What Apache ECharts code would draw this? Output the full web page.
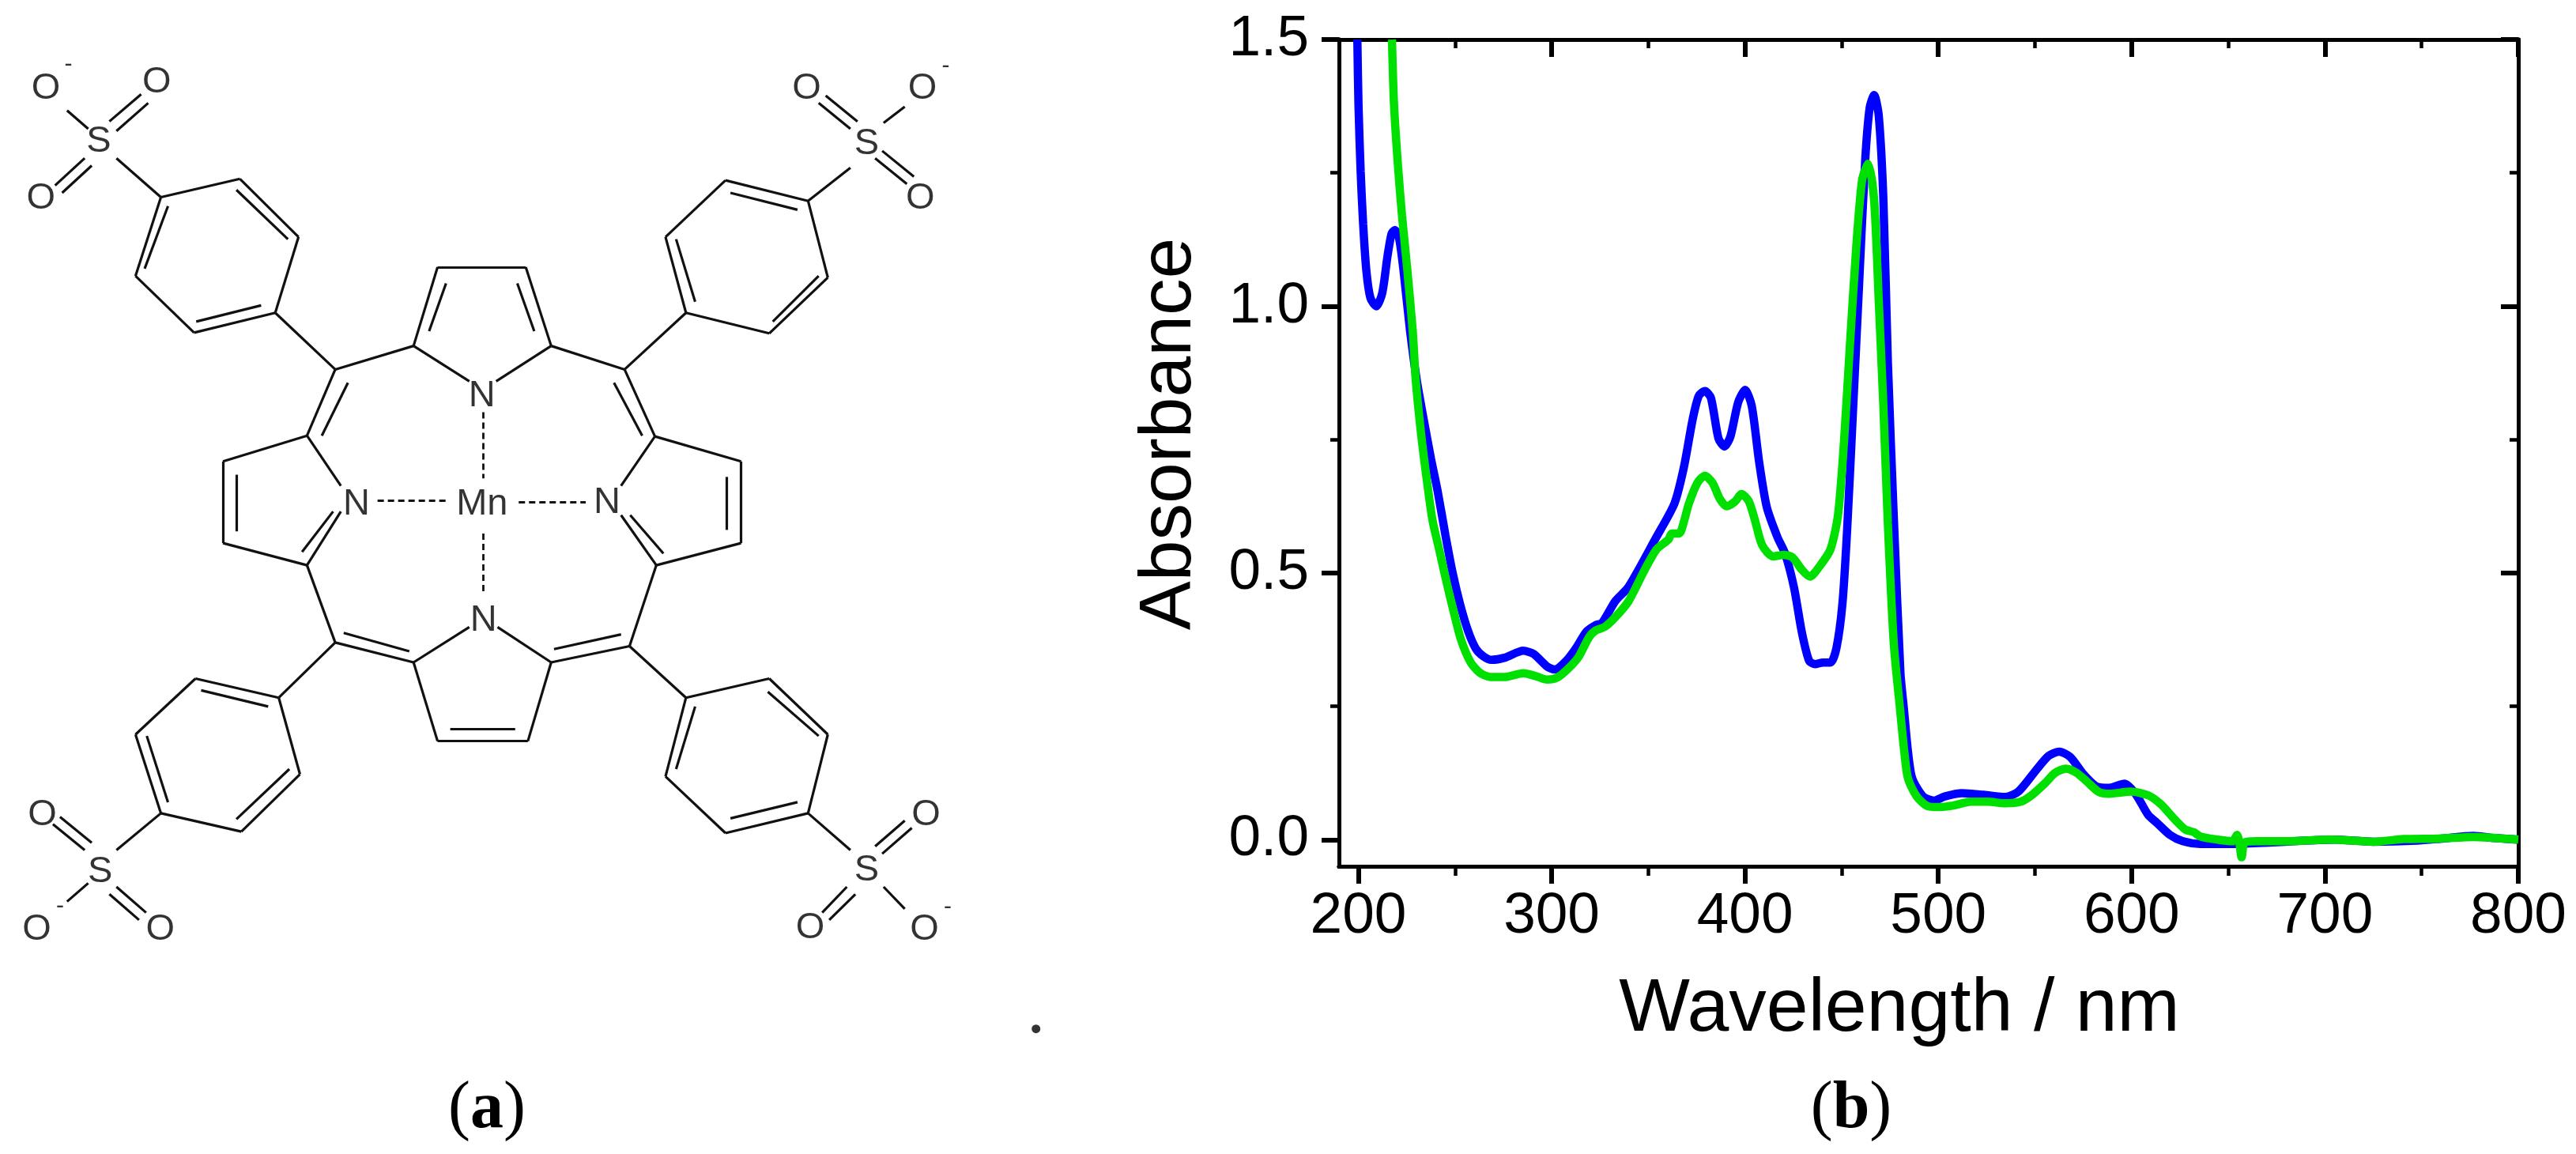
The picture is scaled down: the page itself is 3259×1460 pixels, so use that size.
<!DOCTYPE html>
<html>
<head>
<meta charset="utf-8">
<title>Mn porphyrin</title>
<script src="https://cdn.jsdelivr.net/npm/echarts@6/dist/echarts.min.js"></script>
<style>
html, body { margin: 0; padding: 0; background: #fff; }
#main { width: 3259px; height: 1460px; }
</style>
</head>
<body>
<div id="main"></div>
<script>
// (b) absorbance spectra, [wavelength nm, absorbance]
var blueSpectrum = [
    [199.5,1.5],[200.1,1.376],[201.2,1.253],[202.5,1.154],[204.2,1.065],[206.3,1.015],[209.3,1.0],[212.4,1.025],
    [215.1,1.094],[217.2,1.136],[218.9,1.143],[221,1.129],[223.3,1.07],[226.7,.956],[230.2,.862],[233.8,.788],
    [237.6,.714],[241,.654],[245.1,.57],[248.8,.5],[252.6,.442],[256.7,.392],[260.8,.358],[264.9,.343],[268.9,.337],
    [275.7,.341],[285.3,.354],[290.7,.348],[297.5,.325],[301.6,.319],[307,.333],[312.4,.358],[318,.39],[322.7,.402],
    [326,.406],[332.9,.447],[339.8,.474],[354,.566],[363.5,.63],[368.4,.698],[373,.789],[376.1,.832],[379.3,.841],
    [382.4,.828],[386.3,.752],[389.4,.737],[392.5,.756],[396.5,.82],[400.1,.843],[403.5,.813],[407.4,.706],
    [411.3,.623],[416.8,.567],[420.8,.536],[425.4,.472],[429.4,.389],[433.2,.335],[436.3,.329],[440.3,.332],
    [444.2,.332],[447.3,.359],[450.4,.442],[452.8,.578],[455.9,.806],[459.1,1.047],[462.2,1.274],[464.5,1.372],
    [466.8,1.396],[469.2,1.357],[471.6,1.199],[473.9,.896],[477.1,.593],[480.4,.313],[482.2,.245],[484.3,.165],
    [486.5,.115],[492.1,.081],[497.8,.073],[503.3,.081],[512.3,.087],[523.5,.084],[534.7,.08],[541.4,.09],
    [550.5,.13],[557,.157],[562.6,.165],[568.2,.155],[575,.123],[581.7,.1],[588.4,.097],[596.3,.105],[602,.086],
    [608.6,.046],[613.2,.031],[619.8,.009],[626.5,-.003],[635.5,-.008],[653.3,-.008],[669,-.006],[689.2,-.002],
    [704.7,0],[725,-.004],[747.4,-.002],[760.8,.002],[776.6,.007],[787.7,.003],[800,0]
];
var greenSpectrum = [
    [217.4,1.5],[218.5,1.376],[220.6,1.259],[222.6,1.17],[225.3,1.07],[228.1,.956],[229.7,.862],[232.4,.763],[234.9,.689],
    [238.3,.6],[241.7,.546],[245.1,.491],[249,.432],[253.1,.375],[258,.333],[262.8,.313],[268.2,.305],[275.7,.305],
    [285.3,.312],[291.4,.307],[297.7,.3],[303,.304],[308.4,.32],[314,.343],[319.4,.38],[322.7,.392],[327.5,.399],
    [332.9,.417],[339.8,.447],[348,.505],[354.2,.544],
    [360.5,.563],[362.1,.574],[366,.574],[368.4,.596],[371,.63],[375.4,.669],[379.3,.682],[383.2,.669],[387,.639],
    [390.5,.625],[394.9,.634],[398.2,.648],[401.9,.635],[405,.601],[408.9,.552],[414.5,.531],[420,.534],[424.6,.529],
    [429.4,.506],[433.6,.493],[438.7,.513],[444.2,.544],[448.1,.608],[451.2,.745],[454.4,.934],[457.5,1.108],
    [460.6,1.237],[463.7,1.267],[466.8,1.199],[469.2,1.01],[471.5,.82],[473.9,.593],[477,.366],[480.2,.245],[482.4,.165],
    [484.3,.115],[488.8,.081],[494.3,.063],[500,.061],[507.8,.064],[516.8,.071],[525.7,.071],[534.7,.068],[542.6,.071],
    [548.2,.083],[555,.105],[560.4,.125],[566,.133],[571.6,.125],[577.1,.108],[582.8,.09],[588.4,.086],[599.6,.09],
    [608.6,.083],[615.2,.066],[622,.039],[627.7,.019],[632.1,.014],[635.5,.006],[644.4,0],[652.3,-.003],[654.5,.009],
    [655.6,-.003],[656.9,-.033],[658.5,-.005],[664.8,-.003],[680.3,-.003],[702.8,0],[725,-.004],[740.6,.001],
    [758.6,.002],[776.6,.005],[800,0]
];
var xMajor = [200, 300, 400, 500, 600, 700, 800];
var xMinor = [250, 350, 450, 550, 650, 750];
var yMajor = [0, 0.5, 1, 1.5];
var yMinor = [0.25, 0.75, 1.25];

// (a) structure, in sketch units of the hidden grid: [x1, y1, x2, y2]
var bonds = [
    // pyrrole rings
    [620,363,745,363],[620,363,586,470],[745,363,781,470],[632,385,608,450],[733,385,757,450],[586,470,665,518],[781,470,703,518],
    [435,592,316,627],[316,627,316,738],[316,738,435,768],[335,645,335,722],[435,592,483,660],[435,768,483,695],[428,750,472,695],
    [586,900,620,1007],[620,1007,748,1007],[748,1007,781,900],[638,990,730,990],[586,900,665,852],[781,900,705,852],
    [930,768,1050,738],[1050,738,1050,627],[1050,627,928,593],[1030,648,1030,720],[928,593,880,660],[930,768,880,700],[940,752,893,700],
    // meso bridges
    [586,470,475,502],[475,502,435,592],[493,520,456,592],[435,768,475,873],[475,873,586,900],[487,860,580,885],
    [781,900,892,878],[785,882,880,862],[892,878,930,768],[781,470,885,502],[885,502,928,593],[870,520,910,592],
    // aryl rings
    [475,502,390,425],[390,425,275,452],[275,452,192,375],[192,375,228,268],[228,268,340,243],[340,243,423,322],[423,322,390,425],
    [278,437,370,415],[205,365,238,280],[335,258,408,325],[228,268,165,215],
    [885,502,972,425],[972,425,1090,453],[1090,453,1173,377],[1173,377,1145,273],[1145,273,1028,245],[1028,245,943,322],[943,322,972,425],
    [1095,437,1160,375],[958,325,985,410],[1035,262,1130,285],[1145,273,1205,228],
    [475,873,395,948],[395,948,277,922],[277,922,192,998],[192,998,228,1105],[228,1105,342,1130],[342,1130,425,1052],[425,1052,395,948],
    [285,938,380,960],[208,1000,238,1090],[335,1113,410,1045],[228,1105,165,1155],
    [892,878,972,948],[972,948,1090,922],[1090,922,1173,998],[1173,998,1145,1105],[1145,1105,1028,1132],[1028,1132,943,1055],[943,1055,972,948],
    [985,960,958,1045],[1088,940,1160,1000],[1035,1112,1130,1090],[1145,1105,1205,1155],
    // sulfonate groups
    [125,175,95,150],[155,165,200,128],[165,178,210,140],[78,252,120,215],[88,262,130,225],
    [1160,140,1205,175],[1170,130,1215,165],[1252,167,1282,145],[1240,215,1285,250],[1250,205,1295,240],
    [75,1120,120,1155],[85,1110,130,1145],[125,1200,95,1225],[165,1205,207,1240],[155,1215,197,1250],
    [1250,1160,1292,1125],[1240,1150,1282,1115],[1200,1205,1165,1240],[1212,1215,1175,1250],[1252,1205,1282,1235]
];
var coordBonds = [[685,560,685,650],[685,725,685,805],[535,680,635,680],[735,682,830,682]];
var atoms = [
    [683,685,'Mn'],[683,538,'N'],[505,685,'N'],[860,683,'N'],[685,843,'N'],
    [140,192,'S'],[1228,196,'S'],[142,1185,'S'],[1228,1183,'S'],
    [65,120,'O'],[222,112,'O'],[58,270,'O'],
    [1143,120,'O'],[1307,120,'O'],[1304,270,'O'],
    [60,1107,'O'],[52,1263,'O'],[227,1263,'O'],
    [1312,1107,'O'],[1148,1261,'O'],[1310,1263,'O']
];
var charges = [[97,88],[1340,90],[85,1232],[1343,1233]];
var strayDot = [[1468,1398]];

function toLines(list) {
    return list.map(function (b) {
        return { coords: [[b[0], b[1]], [b[2], b[3]]] };
    });
}

function xAxisSide(position, inside, values, len, tickWidth, withLabel) {
    return {
        type: 'value', gridIndex: 0, position: position, min: 190, max: 800,
        axisLine: { show: true, onZero: false, lineStyle: { color: '#000', width: 5 } },
        axisTick: { show: true, inside: inside, length: len, customValues: values, lineStyle: { color: '#000', width: tickWidth } },
        axisLabel: withLabel ? {
            show: true, customValues: values, margin: 27, fontSize: 73, color: '#000', fontFamily: 'Liberation Sans'
        } : { show: false },
        splitLine: { show: false }
    };
}

function yAxisSide(position, inside, values, len, tickWidth, withLabel) {
    return {
        type: 'value', gridIndex: 0, position: position, min: -0.05, max: 1.5,
        axisLine: { show: true, onZero: false, lineStyle: { color: '#000', width: 5 } },
        axisTick: { show: true, inside: inside, length: len, customValues: values, lineStyle: { color: '#000', width: tickWidth } },
        axisLabel: withLabel ? {
            show: true, customValues: values, margin: 38, fontSize: 73, color: '#000', fontFamily: 'Liberation Sans',
            formatter: function (v) { return v.toFixed(1); }
        } : { show: false },
        splitLine: { show: false }
    };
}

var myChart = echarts.init(document.getElementById('main'));

var captionRich = {
    r: { fontSize: 84, fontFamily: 'Liberation Serif', fill: '#000' },
    b: { fontSize: 84, fontFamily: 'Liberation Serif', fontWeight: 'bold', fill: '#000' }
};

var option = {
    animation: false,
    backgroundColor: '#fff',
    grid: [
        { left: 1694, right: 73, top: 50, bottom: 364 },
        { left: 0, top: 0, width: 1400, height: 1460 }
    ],
    xAxis: [
        xAxisSide('bottom', false, xMajor, 22, 6, true),
        xAxisSide('bottom', false, xMinor, 12, 4.5, false),
        xAxisSide('top', true, xMajor, 22, 6, false),
        xAxisSide('top', true, xMinor, 11, 4.5, false),
        { type: 'value', gridIndex: 1, min: 0, max: 1568, show: false }
    ],
    yAxis: [
        yAxisSide('left', false, yMajor, 22, 6, true),
        yAxisSide('left', false, yMinor, 11, 4.5, false),
        yAxisSide('right', true, yMajor, 22, 6, false),
        yAxisSide('right', true, yMinor, 11, 4.5, false),
        { type: 'value', gridIndex: 1, min: 0, max: 1568, inverse: true, show: false }
    ],
    series: [
        {
            name: 'blue', type: 'line', data: blueSpectrum, showSymbol: false, smooth: 0.25,
            lineStyle: { color: '#0000ff', width: 10.5 }, xAxisIndex: 0, yAxisIndex: 0
        },
        {
            name: 'green', type: 'line', data: greenSpectrum, showSymbol: false, smooth: 0.25,
            lineStyle: { color: '#00e000', width: 10.5 }, xAxisIndex: 0, yAxisIndex: 0
        },
        {
            name: 'bonds', type: 'lines', coordinateSystem: 'cartesian2d', xAxisIndex: 4, yAxisIndex: 4,
            data: toLines(bonds), lineStyle: { color: '#111', width: 3.2, opacity: 1, curveness: 0 }
        },
        {
            name: 'coordination', type: 'lines', coordinateSystem: 'cartesian2d', xAxisIndex: 4, yAxisIndex: 4,
            data: toLines(coordBonds), lineStyle: { color: '#111', width: 2.8, type: [8, 5], opacity: 1, curveness: 0 }
        },
        {
            name: 'atoms', type: 'scatter', xAxisIndex: 4, yAxisIndex: 4, symbolSize: 0,
            data: atoms,
            label: {
                show: true, position: 'inside', color: '#000', fontSize: 47, fontFamily: 'Liberation Sans',
                formatter: function (p) { return p.data[2]; }
            }
        },
        {
            name: 'charges', type: 'scatter', xAxisIndex: 4, yAxisIndex: 4, symbolSize: 0,
            data: charges,
            label: {
                show: true, position: 'inside', color: '#000', fontSize: 30, fontFamily: 'Liberation Sans',
                formatter: '-'
            }
        },
        {
            name: 'dot', type: 'scatter', xAxisIndex: 4, yAxisIndex: 4, symbolSize: 11,
            data: strayDot, itemStyle: { color: '#000' }
        }
    ],
    graphic: [
        {
            type: 'text', x: 2403, y: 1278,
            style: { text: 'Wavelength / nm', fontSize: 95, fontFamily: 'Liberation Sans', fill: '#000', align: 'center', verticalAlign: 'middle' }
        },
        {
            type: 'text', x: 1480, y: 549, rotation: Math.PI / 2,
            style: { text: 'Absorbance', fontSize: 93, fontFamily: 'Liberation Sans', fill: '#000', align: 'center', verticalAlign: 'middle' }
        },
        {
            type: 'text', x: 616, y: 1404,
            style: { text: '{r|(}{b|a}{r|)}', align: 'center', verticalAlign: 'middle', rich: captionRich }
        },
        {
            type: 'text', x: 2342, y: 1404,
            style: { text: '{r|(}{b|b}{r|)}', align: 'center', verticalAlign: 'middle', rich: captionRich }
        }
    ]
};

myChart.setOption(option);
</script>
</body>
</html>
